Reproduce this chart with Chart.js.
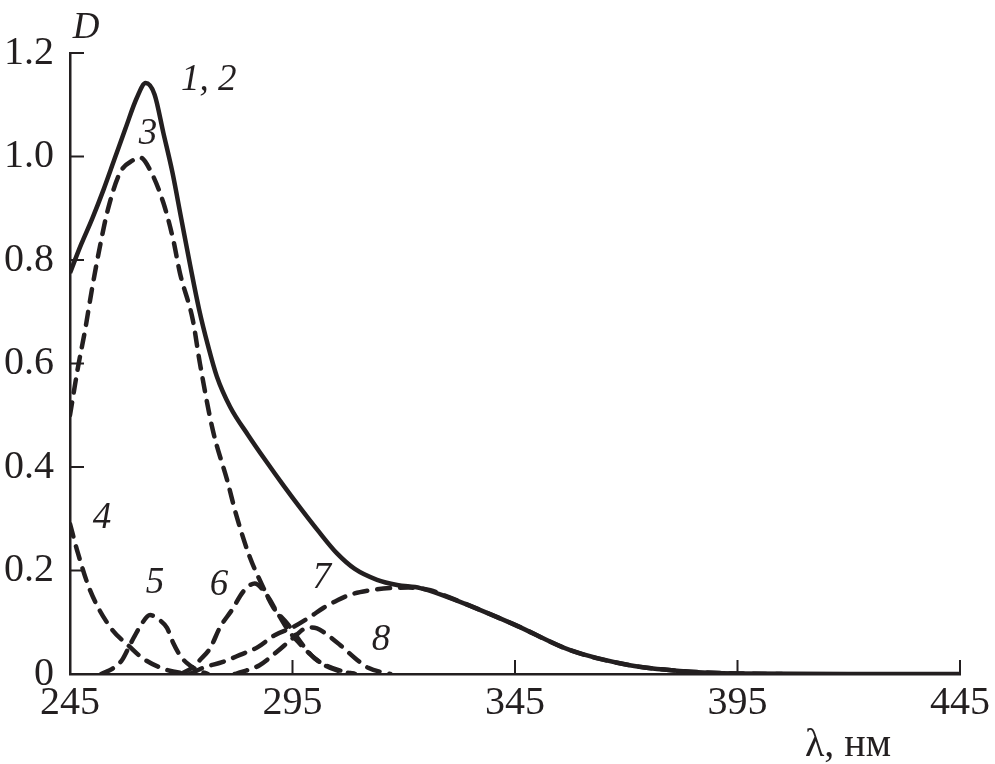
<!DOCTYPE html>
<html>
<head>
<meta charset="utf-8">
<script src="https://cdn.jsdelivr.net/npm/chart.js@4.4.1/dist/chart.umd.min.js"></script>
<style>
  html, body { margin: 0; padding: 0; background: #ffffff; }
  #wrap { width: 995px; height: 764px; }
</style>
</head>
<body>
<div id="wrap"><canvas id="spectrum"></canvas></div>
<script>
// Спектр поглощения: суммарная кривая (1, 2) и её составляющие (3–8)
const lambdaSum = [245, 247.5, 250, 252.5, 255, 257.5, 260, 262, 264, 266, 268, 270, 272, 274, 276, 278, 281, 285, 289, 293, 297, 301, 305, 309, 314, 318.5, 323.7, 329.7, 337.1, 345, 357.4, 370.8, 382, 395, 420, 445];
const dSum = [0.775, 0.83, 0.88, 0.935, 0.995, 1.055, 1.113, 1.142, 1.12, 1.045, 0.97, 0.88, 0.79, 0.705, 0.635, 0.575, 0.516, 0.462, 0.412, 0.364, 0.318, 0.274, 0.233, 0.203, 0.182, 0.172, 0.166, 0.149, 0.124, 0.095, 0.046, 0.017, 0.006, 0.001, 0, 0];

const lambda3 = [245, 246.8, 248.4, 249.9, 251.7, 253.5, 256.2, 259.2, 260.8, 263, 266, 268.2, 269.7, 272.6, 274.2, 277.1, 280.3, 282.5, 285.4, 288, 290.6, 293.8, 297.4, 300, 303, 306, 309];
const d3 = [0.5, 0.593, 0.665, 0.742, 0.825, 0.897, 0.968, 0.993, 0.998, 0.974, 0.91, 0.839, 0.775, 0.684, 0.6, 0.471, 0.375, 0.303, 0.226, 0.175, 0.13, 0.098, 0.055, 0.03, 0.015, 0.006, 0];

const lambda4 = [245, 246.8, 249.5, 254, 258.5, 261.4, 266, 270, 273];
const d4 = [0.29, 0.233, 0.162, 0.091, 0.052, 0.03, 0.01, 0.002, 0];

const lambda5 = [252, 254.5, 256.7, 258.7, 260.7, 263, 265, 266.8, 268.2, 269.8, 271.3, 273.5, 276];
const d5 = [0, 0.01, 0.027, 0.06, 0.091, 0.114, 0.105, 0.089, 0.06, 0.035, 0.021, 0.008, 0];

const lambda6 = [270, 272.7, 274.2, 276.5, 278.7, 281.4, 284, 286.5, 289, 291.5, 294, 296.5, 299, 302, 305, 309];
const d6 = [0, 0.014, 0.027, 0.05, 0.09, 0.124, 0.16, 0.175, 0.155, 0.12, 0.085, 0.06, 0.038, 0.018, 0.007, 0];

const lambda7 = [272, 274.9, 279.2, 283.2, 287.2, 291, 295, 298.9, 302, 305, 307.9, 312, 316.9, 321, 326, 330, 337.1, 345, 357.4, 370.8, 382, 395, 405];
const d7 = [0, 0.012, 0.023, 0.037, 0.052, 0.075, 0.09, 0.11, 0.128, 0.142, 0.153, 0.161, 0.166, 0.167, 0.162, 0.149, 0.124, 0.095, 0.046, 0.017, 0.006, 0.001, 0];

const lambda8 = [282, 283.6, 287.6, 291.5, 295.2, 298.5, 300.5, 302.3, 305.7, 309, 312, 317];
const d8 = [0, 0.004, 0.017, 0.043, 0.07, 0.09, 0.088, 0.079, 0.056, 0.031, 0.012, 0];

// Номера кривых и точки их подписей (в координатах графика)
const curveLabels = ["1, 2", "3", "4", "5", "6", "7", "8"];
const labelLambda = [276.2, 262.5, 252.2, 264.1, 278.5, 301.6, 314.9];
const labelD = [1.148, 1.043, 0.301, 0.176, 0.172, 0.184, 0.066];

const xTicks = [245, 295, 345, 395, 445];
const yTicks = [0, 0.2, 0.4, 0.6, 0.8, 1.0, 1.2];

const ink = "#231f20";
const serif = "'Liberation Serif', 'Times New Roman', serif";

const toPoints = (xs, ys) => xs.map((x, i) => ({ x: x, y: ys[i] }));

const dashedSet = (xs, ys) => ({
    data: toPoints(xs, ys),
    borderColor: ink,
    borderWidth: 4.5,
    borderDash: [13, 10],
    borderCapStyle: "round",
    pointRadius: 0,
    cubicInterpolationMode: "monotone",
    fill: false,
});

// Засечки внутрь, подписи кривых и осей
const decorPlugin = {
    id: "decor",
    afterDraw(chart) {
        const ctx = chart.ctx;
        const xs = chart.scales.x, ys = chart.scales.y;
        const area = chart.chartArea;
        ctx.save();
        ctx.strokeStyle = ink;
        ctx.lineWidth = 2;
        xTicks.forEach((v) => {
            const px = xs.getPixelForValue(v);
            ctx.beginPath();
            ctx.moveTo(px, area.bottom);
            ctx.lineTo(px, area.bottom - 14);
            ctx.stroke();
        });
        yTicks.forEach((v) => {
            const py = ys.getPixelForValue(v);
            ctx.beginPath();
            ctx.moveTo(area.left, py);
            ctx.lineTo(area.left + 14, py);
            ctx.stroke();
        });
        ctx.fillStyle = ink;
        ctx.textAlign = "center";
        ctx.textBaseline = "middle";
        ctx.font = "italic 37px " + serif;
        curveLabels.forEach((t, i) => {
            ctx.fillText(t, xs.getPixelForValue(labelLambda[i]), ys.getPixelForValue(labelD[i]));
        });
        ctx.fillText("D", area.left + 16, area.top - 25);
        ctx.font = "40px " + serif;
        ctx.fillText("λ, нм", xs.getPixelForValue(445) - 112, area.bottom + 71);
        ctx.restore();
    },
};

new Chart(document.getElementById("spectrum"), {
    type: "line",
    data: {
        datasets: [
            {
                data: toPoints(lambdaSum, dSum),
                borderColor: ink,
                borderWidth: 4.5,
                pointRadius: 0,
                cubicInterpolationMode: "monotone",
                fill: false,
            },
            dashedSet(lambda3, d3),
            dashedSet(lambda4, d4),
            dashedSet(lambda5, d5),
            dashedSet(lambda6, d6),
            dashedSet(lambda7, d7),
            dashedSet(lambda8, d8),
        ],
    },
    plugins: [decorPlugin],
    options: {
        responsive: true,
        maintainAspectRatio: false,
        animation: false,
        layout: { padding: { left: 0, top: 53, right: 35, bottom: 0 } },
        plugins: { legend: { display: false }, tooltip: { enabled: false } },
        scales: {
            x: {
                type: "linear",
                min: 245,
                max: 445,
                afterBuildTicks: (scale) => { scale.ticks = xTicks.map((v) => ({ value: v })); },
                afterFit: (scale) => { scale.height = 90; },
                grid: { display: false, drawTicks: false },
                border: { display: true, color: ink, width: 2.5 },
                ticks: {
                    color: ink,
                    padding: 5,
                    maxRotation: 0,
                    font: { family: serif, size: 40 },
                },
            },
            y: {
                type: "linear",
                min: 0,
                max: 1.2,
                afterBuildTicks: (scale) => { scale.ticks = yTicks.map((v) => ({ value: v })); },
                afterFit: (scale) => { scale.width = 70; },
                grid: { display: false, drawTicks: false },
                border: { display: true, color: ink, width: 2.5 },
                ticks: {
                    color: ink,
                    padding: 16,
                    font: { family: serif, size: 40 },
                    callback: (v) => (v === 0 ? "0" : v.toFixed(1)),
                },
            },
        },
    },
});
</script>
</body>
</html>
